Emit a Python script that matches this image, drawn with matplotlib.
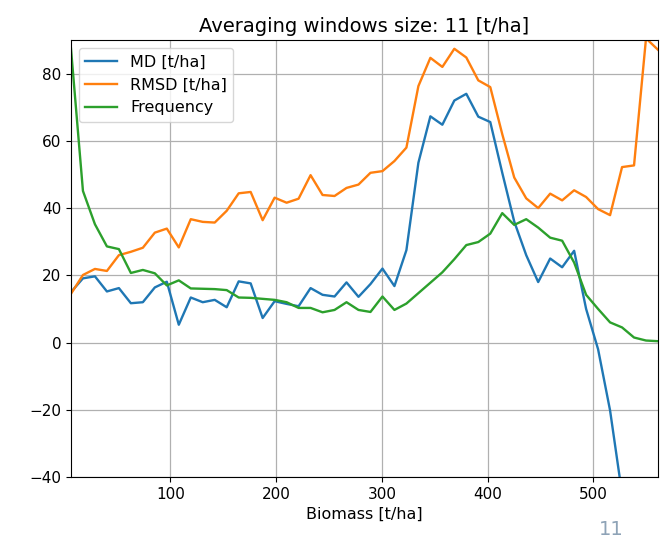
import numpy as np
import matplotlib
matplotlib.use("Agg")
import matplotlib.pyplot as plt

# centres of the biomass windows [t/ha]
biomass = np.linspace(6, 561, 50)

# mean difference per window [t/ha]
md = [15.0, 19.1, 19.7, 15.2, 16.2, 11.7, 12.0, 16.4, 18.1, 5.3,
      13.4, 12.0, 12.7, 10.5, 18.2, 17.6, 7.3, 12.3, 11.5, 10.8,
      16.2, 14.2, 13.7, 17.9, 13.6, 17.4, 22.0, 16.8, 27.5, 53.5,
      67.3, 64.8, 72.0, 74.0, 67.2, 65.6, 50.5, 36.0, 26.0, 18.0,
      25.0, 22.4, 27.3, 10.0, -2.0, -20.2, -45.0, -70.0, -95.0, -120.0]

# root mean square difference per window [t/ha]
rmsd = [14.5, 20.1, 21.9, 21.3, 26.0, 27.0, 28.2, 32.7, 33.9, 28.3,
        36.7, 35.9, 35.7, 39.2, 44.4, 44.8, 36.4, 43.1, 41.6, 42.8,
        49.8, 43.9, 43.6, 46.0, 47.0, 50.5, 51.0, 54.0, 58.0, 76.3,
        84.7, 82.0, 87.4, 84.8, 78.0, 76.0, 62.0, 49.1, 42.9, 40.0,
        44.3, 42.3, 45.3, 43.3, 39.7, 37.9, 52.2, 52.7, 90.5, 87.1]

# number of samples per window
freq = [87.5, 45.1, 35.2, 28.6, 27.8, 20.7, 21.6, 20.6, 17.0, 18.5,
        16.1, 16.0, 15.9, 15.6, 13.4, 13.3, 13.0, 12.7, 12.0, 10.3,
        10.3, 9.0, 9.7, 12.0, 9.7, 9.1, 13.7, 9.7, 11.6, 14.7,
        17.8, 20.9, 24.8, 29.0, 29.9, 32.4, 38.5, 35.0, 36.7, 34.2,
        31.2, 30.3, 23.8, 14.2, 10.0, 6.0, 4.5, 1.5, 0.6, 0.4]

window = 11

plt.rcParams["font.size"] = 11.5
plt.rcParams["lines.linewidth"] = 1.7

fig = plt.figure(figsize=(6.67, 5.41), dpi=100)
ax = fig.add_axes([0.1064, 0.1183, 0.8801, 0.8077])

ax.plot(biomass, md, color="C0", label="MD [t/ha]")
ax.plot(biomass, rmsd, color="C1", label="RMSD [t/ha]")
ax.plot(biomass, freq, color="C2", label="Frequency")

ax.set_xlim(biomass[0], biomass[-1])
ax.set_ylim(-40, 90)
ax.set_xticks([100, 200, 300, 400, 500])
ax.set_yticks([-40, -20, 0, 20, 40, 60, 80])
ax.tick_params(labelsize=11)
ax.grid(True, color="#b0b0b0", linewidth=0.9)
ax.set_xlabel("Biomass [t/ha]")
ax.set_title(f"Averaging windows size: {window} [t/ha]", fontsize=14)
ax.legend(loc="upper left")

# slide number
fig.text(0.916, 0.004, "11", color="#8ea3b7", fontsize=14, ha="center", va="bottom")

fig.savefig("out.png", dpi=100)
